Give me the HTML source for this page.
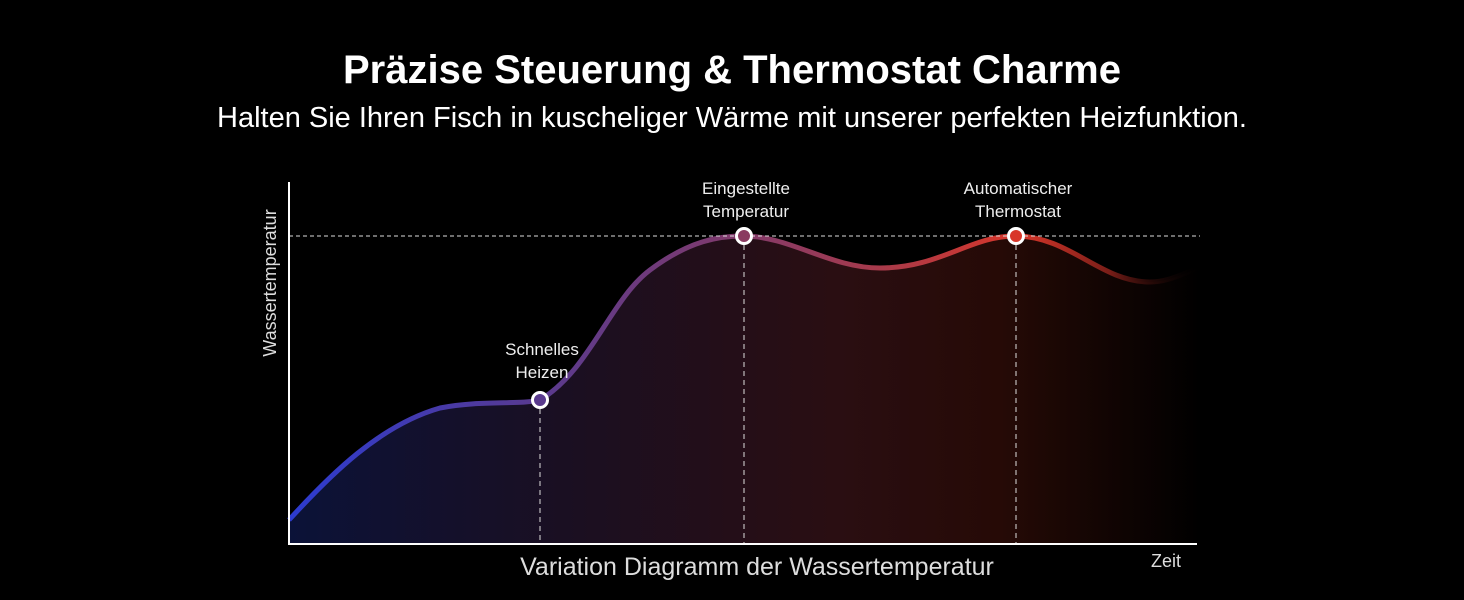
<!DOCTYPE html>
<html><head><meta charset="utf-8"><style>
html,body{margin:0;padding:0;background:#000;width:1464px;height:600px;overflow:hidden}
svg{display:block}
text{font-family:"Liberation Sans","DejaVu Sans",sans-serif}
</style></head><body>
<svg width="1464" height="600" viewBox="0 0 1464 600" xmlns="http://www.w3.org/2000/svg">
<defs>
<linearGradient id="lg" x1="289" y1="0" x2="1200" y2="0" gradientUnits="userSpaceOnUse">
<stop offset="0" stop-color="#2c3bd0"/>
<stop offset="0.28" stop-color="#5a3a8e"/>
<stop offset="0.5" stop-color="#823a6a"/>
<stop offset="0.65" stop-color="#a83a4a"/>
<stop offset="0.8" stop-color="#d8362a"/>
<stop offset="0.9" stop-color="#7a1e18"/>
<stop offset="1" stop-color="#000" stop-opacity="0"/>
</linearGradient>
<linearGradient id="fg" x1="289" y1="0" x2="1200" y2="0" gradientUnits="userSpaceOnUse">
<stop offset="0" stop-color="#0b1238"/>
<stop offset="0.3" stop-color="#1a0f22"/>
<stop offset="0.6" stop-color="#2a0e12"/>
<stop offset="0.78" stop-color="#260a06"/>
<stop offset="1" stop-color="#000"/>
</linearGradient>
</defs>
<text x="732" y="83" text-anchor="middle" fill="#fff" font-size="40" font-weight="bold">Präzise Steuerung &amp; Thermostat Charme</text>
<text x="732" y="127" text-anchor="middle" fill="#fff" font-size="29">Halten Sie Ihren Fisch in kuscheliger Wärme mit unserer perfekten Heizfunktion.</text>

<path d="M289,520 C330,475 380,425 440,408 C480,400 520,405 540,400 C590,370 610,300 650,270 C690,240 720,236 743,236 C790,236 830,268 880,268 C940,268 970,236 1015,236 C1070,236 1100,282 1150,282 C1170,282 1185,272 1200,268 L1200,543 L289,543 Z" fill="url(#fg)"/>
<path d="M289,520 C330,475 380,425 440,408 C480,400 520,405 540,400 C590,370 610,300 650,270 C690,240 720,236 743,236 C790,236 830,268 880,268 C940,268 970,236 1015,236 C1070,236 1100,282 1150,282 C1170,282 1185,272 1200,268" fill="none" stroke="url(#lg)" stroke-width="5"/>

<line x1="289" y1="236" x2="1200" y2="236" stroke="#ddd" stroke-width="1" stroke-dasharray="4,3"/>
<line x1="540" y1="400" x2="540" y2="543" stroke="#ddd" stroke-width="1" stroke-dasharray="5,4"/>
<line x1="744" y1="236" x2="744" y2="543" stroke="#ddd" stroke-width="1" stroke-dasharray="5,4"/>
<line x1="1016" y1="236" x2="1016" y2="543" stroke="#ddd" stroke-width="1" stroke-dasharray="5,4"/>

<line x1="289" y1="182" x2="289" y2="544" stroke="#fff" stroke-width="2"/>
<line x1="288" y1="544" x2="1197" y2="544" stroke="#fff" stroke-width="2"/>

<circle cx="540" cy="400" r="7.5" fill="#5a3a8e" stroke="#fff" stroke-width="3"/>
<circle cx="744" cy="236" r="7.5" fill="#8a3a60" stroke="#fff" stroke-width="3"/>
<circle cx="1016" cy="236" r="7.5" fill="#d8362a" stroke="#fff" stroke-width="3"/>

<g fill="#eee" font-size="17" text-anchor="middle">
<text x="542" y="355">Schnelles</text><text x="542" y="378">Heizen</text>
<text x="746" y="194">Eingestellte</text><text x="746" y="217">Temperatur</text>
<text x="1018" y="194">Automatischer</text><text x="1018" y="217">Thermostat</text>
</g>
<text x="757" y="575" text-anchor="middle" fill="#ddd" font-size="25">Variation Diagramm der Wassertemperatur</text>
<text x="1166" y="567" text-anchor="middle" fill="#ddd" font-size="18">Zeit</text>
<text transform="translate(276,283) rotate(-90)" text-anchor="middle" fill="#ddd" font-size="18">Wassertemperatur</text>
</svg>
</body></html>
